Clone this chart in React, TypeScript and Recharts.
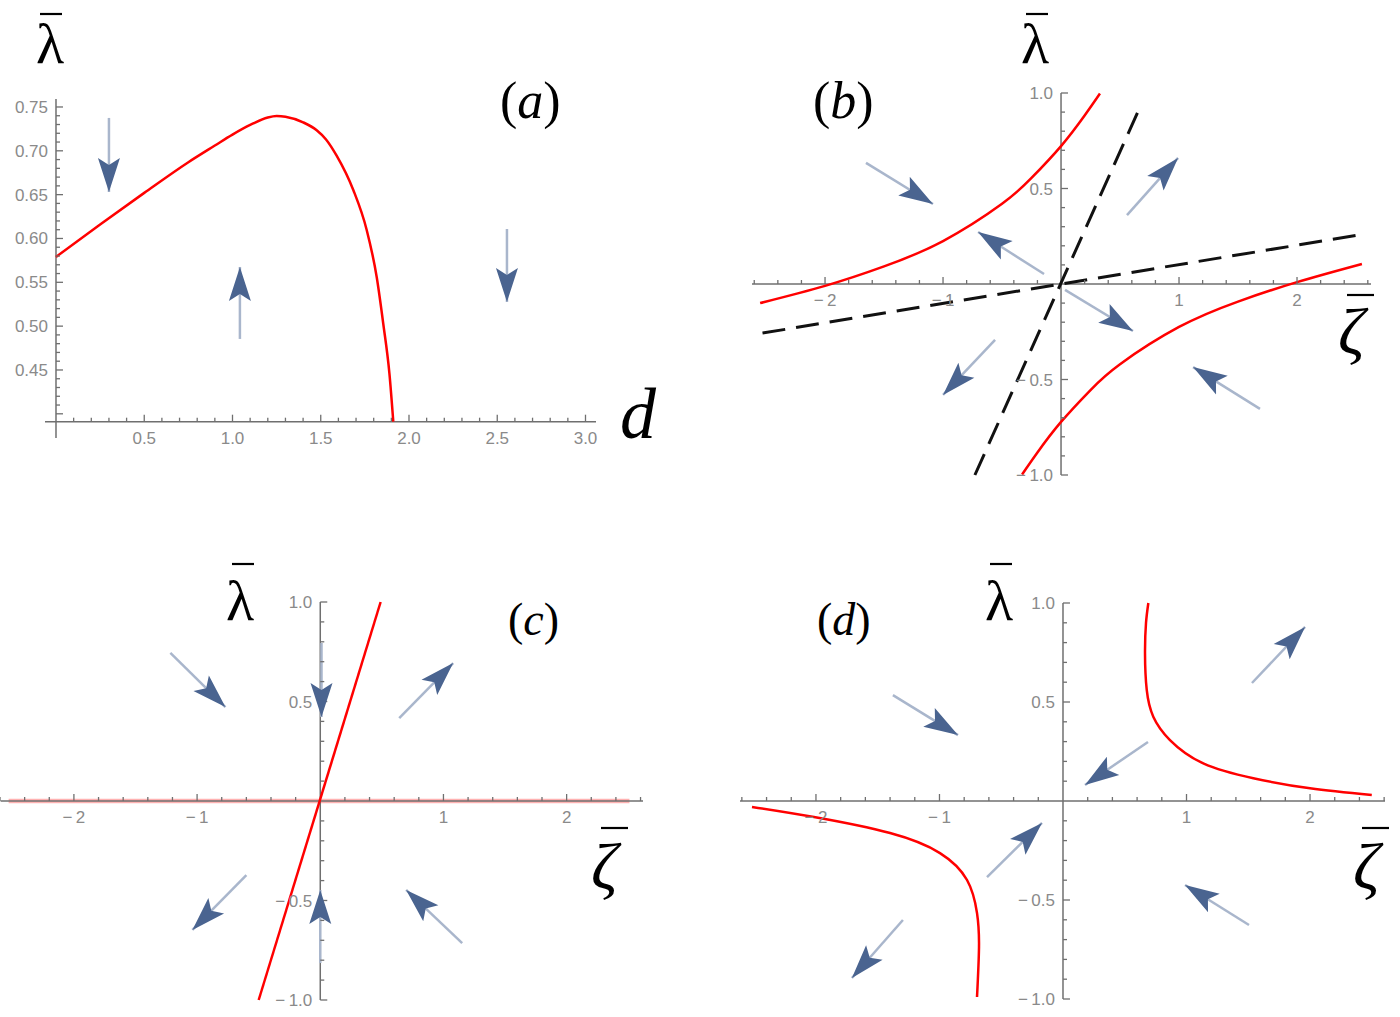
import React from "react";
import { ComposedChart, Line, Scatter, XAxis, YAxis } from "recharts";

type Pt = { x: number; y: number };
type Arrow = { x1: number; y1: number; x2: number; y2: number };
type Tick = { v: number; label: string };

// ---------- Panel (a) data ----------
const curveA: Pt[] = [
  { x: 0, y: 0.579 }, { x: 0.25, y: 0.616 }, { x: 0.5, y: 0.652 }, { x: 0.75, y: 0.687 },
  { x: 0.9, y: 0.706 }, { x: 1.0, y: 0.7185 }, { x: 1.1, y: 0.7295 }, { x: 1.2, y: 0.738 },
  { x: 1.25, y: 0.7397 }, { x: 1.3, y: 0.7389 }, { x: 1.4, y: 0.7325 }, { x: 1.477, y: 0.7235 },
  { x: 1.53, y: 0.713 }, { x: 1.59, y: 0.6945 }, { x: 1.685, y: 0.655 }, { x: 1.76, y: 0.61 },
  { x: 1.817, y: 0.556 }, { x: 1.854, y: 0.503 }, { x: 1.889, y: 0.446 }, { x: 1.911, y: 0.391 },
];
const arrowsA: Arrow[] = [
  { x1: 0.3, y1: 0.7375, x2: 0.3, y2: 0.653 },
  { x1: 1.042, y1: 0.4854, x2: 1.042, y2: 0.5675 },
  { x1: 2.555, y1: 0.6108, x2: 2.555, y2: 0.5276 },
];
const xMajorA: Tick[] = [
  { v: 0.5, label: "0.5" }, { v: 1.0, label: "1.0" }, { v: 1.5, label: "1.5" },
  { v: 2.0, label: "2.0" }, { v: 2.5, label: "2.5" }, { v: 3.0, label: "3.0" },
];
const xMinorA: number[] = [
  0.1, 0.2, 0.3, 0.4, 0.6, 0.7, 0.8, 0.9, 1.1, 1.2, 1.3, 1.4, 1.6, 1.7, 1.8, 1.9,
  2.1, 2.2, 2.3, 2.4, 2.6, 2.7, 2.8, 2.9,
];
const yMajorA: Tick[] = [
  { v: 0.4, label: "" }, { v: 0.45, label: "0.45" }, { v: 0.5, label: "0.50" }, { v: 0.55, label: "0.55" },
  { v: 0.6, label: "0.60" }, { v: 0.65, label: "0.65" }, { v: 0.7, label: "0.70" }, { v: 0.75, label: "0.75" },
];
const yMinorA: number[] = [
  0.41, 0.42, 0.43, 0.44, 0.46, 0.47, 0.48, 0.49, 0.51, 0.52, 0.53, 0.54, 0.56, 0.57, 0.58, 0.59,
  0.61, 0.62, 0.63, 0.64, 0.66, 0.67, 0.68, 0.69, 0.71, 0.72, 0.73, 0.74,
];

// ---------- shared ticks for (b), (c), (d) ----------
const xMajorZ: Tick[] = [
  { v: -2, label: "\u2212\u20092" }, { v: -1, label: "\u2212\u20091" }, { v: 1, label: "1" }, { v: 2, label: "2" },
];
const xMinorZ: number[] = [
  -2.6, -2.4, -2.2, -1.8, -1.6, -1.4, -1.2, -0.8, -0.6, -0.4, -0.2,
  0.2, 0.4, 0.6, 0.8, 1.2, 1.4, 1.6, 1.8, 2.2, 2.4, 2.6,
];
const yMajorZ: Tick[] = [
  { v: -1, label: "\u2212\u20091.0" }, { v: -0.5, label: "\u2212\u20090.5" }, { v: 0.5, label: "0.5" }, { v: 1, label: "1.0" },
];
const yMinorZ: number[] = [
  -0.9, -0.8, -0.7, -0.6, -0.4, -0.3, -0.2, -0.1, 0.1, 0.2, 0.3, 0.4, 0.6, 0.7, 0.8, 0.9,
];

// ---------- Panel (b) data ----------
const upperB: Pt[] = [
  { x: -2.55, y: -0.1 }, { x: -2.0, y: -0.01 }, { x: -1.5, y: 0.092 }, { x: -1.0, y: 0.225 },
  { x: -0.5, y: 0.42 }, { x: -0.25, y: 0.555 }, { x: 0, y: 0.722 }, { x: 0.2, y: 0.882 }, { x: 0.33, y: 0.997 },
];
const lowerB: Pt[] = [
  { x: -0.33, y: -0.997 }, { x: -0.2, y: -0.882 }, { x: 0, y: -0.722 }, { x: 0.25, y: -0.555 },
  { x: 0.5, y: -0.42 }, { x: 1.0, y: -0.225 }, { x: 1.5, y: -0.092 }, { x: 2.0, y: 0.01 }, { x: 2.55, y: 0.105 },
];
const steepB: Pt[] = [{ x: -0.73, y: -1.0 }, { x: 0.65, y: 0.9 }];
const shallowB: Pt[] = [{ x: -2.53, y: -0.257 }, { x: 2.53, y: 0.257 }];
const arrowsB: Arrow[] = [
  { x1: -1.653, y1: 0.634, x2: -1.085, y2: 0.419 },
  { x1: -0.144, y1: 0.052, x2: -0.703, y2: 0.272 },
  { x1: 0.559, y1: 0.361, x2: 0.992, y2: 0.66 },
  { x1: 0.034, y1: -0.031, x2: 0.61, y2: -0.246 },
  { x1: 1.686, y1: -0.654, x2: 1.119, y2: -0.435 },
  { x1: -0.559, y1: -0.293, x2: -1.0, y2: -0.581 },
];

// ---------- Panel (c) data ----------
const flatC: Pt[] = [{ x: -2.53, y: 0 }, { x: 2.51, y: 0 }];
const steepC: Pt[] = [{ x: -0.5, y: -1.0 }, { x: 0.49, y: 1.0 }];
const arrowsC: Arrow[] = [
  { x1: -1.217, y1: 0.744, x2: -0.77, y2: 0.472 },
  { x1: 0.01, y1: 0.794, x2: 0.01, y2: 0.422 },
  { x1: 0.641, y1: 0.417, x2: 1.079, y2: 0.693 },
  { x1: 0.0, y1: -0.814, x2: 0.0, y2: -0.447 },
  { x1: 1.152, y1: -0.714, x2: 0.697, y2: -0.447 },
  { x1: -0.6, y1: -0.372, x2: -1.038, y2: -0.648 },
];

// ---------- Panel (d) data ----------
const upperD: Pt[] = [
  { x: 0.691, y: 1.0 }, { x: 0.672, y: 0.899 }, { x: 0.664, y: 0.746 }, { x: 0.678, y: 0.561 },
  { x: 0.731, y: 0.426 }, { x: 0.866, y: 0.308 }, { x: 1.136, y: 0.19 }, { x: 1.541, y: 0.115 },
  { x: 2.0, y: 0.064 }, { x: 2.5, y: 0.03 },
];
const lowerD: Pt[] = [
  { x: -2.518, y: -0.03 }, { x: -2.016, y: -0.081 }, { x: -1.4, y: -0.162 }, { x: -0.996, y: -0.263 },
  { x: -0.777, y: -0.399 }, { x: -0.696, y: -0.566 }, { x: -0.68, y: -0.737 }, { x: -0.696, y: -0.99 },
];
const arrowsD: Arrow[] = [
  { x1: -1.377, y1: 0.535, x2: -0.85, y2: 0.333 },
  { x1: 1.53, y1: 0.596, x2: 1.96, y2: 0.879 },
  { x1: 0.688, y1: 0.298, x2: 0.178, y2: 0.081 },
  { x1: -0.615, y1: -0.384, x2: -0.17, y2: -0.111 },
  { x1: -1.296, y1: -0.601, x2: -1.709, y2: -0.894 },
  { x1: 1.506, y1: -0.626, x2: 0.988, y2: -0.424 },
];

// ---------- styles ----------
const AXIS = "#6f6f6f";
const LABEL = "#8a8a8a";
const RED = "#ff0000";
const SHAFT = "#a9b6cc";
const HEAD = "#4a6490";
const SANS = "'Liberation Sans', Arial, sans-serif";
const SERIF = "'Liberation Serif', 'Times New Roman', serif";

const TickShape = (props: any) => {
  const { cx, cy, payload } = props;
  if (cx == null || cy == null || !payload) return <g />;
  const len = payload.major ? 7 : 4;
  if (payload.axis === "x") {
    return (
      <g>
        <line x1={cx} y1={cy} x2={cx} y2={cy - len} stroke={AXIS} strokeWidth={1.3} />
        {payload.label ? (
          <text x={cx} y={cy + 22} textAnchor="middle" fontSize={17} fill={LABEL} fontFamily={SANS}>
            {payload.label}
          </text>
        ) : null}
      </g>
    );
  }
  return (
    <g>
      <line x1={cx} y1={cy} x2={cx + len} y2={cy} stroke={AXIS} strokeWidth={1.3} />
      {payload.label ? (
        <text x={cx - 8} y={cy + 6} textAnchor="end" fontSize={17} fill={LABEL} fontFamily={SANS}>
          {payload.label}
        </text>
      ) : null}
    </g>
  );
};

const ArrowHead = (props: any) => {
  const { cx, cy, index, points } = props;
  if (index !== 1 || !points || points.length < 2) return <g key={`e${index}`} />;
  const p0 = points[0];
  const ang = (Math.atan2(cy - p0.y, cx - p0.x) * 180) / Math.PI;
  return (
    <path
      key={`h${index}`}
      d="M0,0 L-34,-11 L-27,0 L-34,11 Z"
      transform={`translate(${cx},${cy}) rotate(${ang})`}
      fill={HEAD}
    />
  );
};

type CurveCfg = { data: Pt[]; type: any; color: string; width: number; dash?: string; opacity?: number };

type PanelCfg = {
  left: number; top: number; width: number; height: number;
  margin: { top: number; right: number; bottom: number; left: number };
  xDomain: [number, number]; yDomain: [number, number];
  xAxisAt: number; yAxisAt: number;
  xMajor: Tick[]; xMinor: number[]; yMajor: Tick[]; yMinor: number[];
  under: CurveCfg[]; curves: CurveCfg[]; arrows: Arrow[];
};

function Panel({ cfg, id }: { cfg: PanelCfg; id: string }) {
  const ticks = [
    ...cfg.xMajor.map((t) => ({ x: t.v, y: cfg.xAxisAt, axis: "x", major: true, label: t.label })),
    ...cfg.xMinor.map((v) => ({ x: v, y: cfg.xAxisAt, axis: "x", major: false, label: "" })),
    ...cfg.yMajor.map((t) => ({ x: cfg.yAxisAt, y: t.v, axis: "y", major: true, label: t.label })),
    ...cfg.yMinor.map((v) => ({ x: cfg.yAxisAt, y: v, axis: "y", major: false, label: "" })),
  ];
  const xLine: Pt[] = [{ x: cfg.xDomain[0], y: cfg.xAxisAt }, { x: cfg.xDomain[1], y: cfg.xAxisAt }];
  const yLine: Pt[] = [{ x: cfg.yAxisAt, y: cfg.yDomain[0] }, { x: cfg.yAxisAt, y: cfg.yDomain[1] }];
  const renderCurve = (c: CurveCfg, i: number, pre: string) => (
    <Line
      key={`${id}-${pre}-${i}`}
      data={c.data}
      dataKey="y"
      type={c.type}
      stroke={c.color}
      strokeWidth={c.width}
      strokeDasharray={c.dash}
      strokeOpacity={c.opacity ?? 1}
      dot={false}
      activeDot={false}
      isAnimationActive={false}
    />
  );
  return (
    <div style={{ position: "absolute", left: cfg.left, top: cfg.top }}>
      <ComposedChart width={cfg.width} height={cfg.height} margin={cfg.margin}>
        <XAxis type="number" dataKey="x" domain={cfg.xDomain} hide />
        <YAxis type="number" dataKey="y" domain={cfg.yDomain} hide />
        {cfg.under.map((c, i) => renderCurve(c, i, "u"))}
        <Line data={xLine} dataKey="y" type="linear" stroke={AXIS} strokeWidth={1.5} dot={false} activeDot={false} isAnimationActive={false} />
        <Line data={yLine} dataKey="y" type="linear" stroke={AXIS} strokeWidth={1.5} dot={false} activeDot={false} isAnimationActive={false} />
        <Scatter data={ticks} dataKey="y" shape={TickShape} isAnimationActive={false} />
        {cfg.curves.map((c, i) => renderCurve(c, i, "c"))}
        {cfg.arrows.map((a, i) => (
          <Line
            key={`${id}-arr-${i}`}
            data={[{ x: a.x1, y: a.y1 }, { x: a.x2, y: a.y2 }]}
            dataKey="y"
            type="linear"
            stroke={SHAFT}
            strokeWidth={2.5}
            dot={ArrowHead}
            activeDot={false}
            isAnimationActive={false}
          />
        ))}
      </ComposedChart>
    </div>
  );
}

const panelA: PanelCfg = {
  left: 0, top: 0, width: 700, height: 480,
  margin: { top: 99, left: 45, right: 104, bottom: 42 },
  xDomain: [-0.0623, 3.0595], yDomain: [0.3724, 0.7591],
  xAxisAt: 0.391, yAxisAt: 0,
  xMajor: xMajorA, xMinor: xMinorA, yMajor: yMajorA, yMinor: yMinorA,
  under: [],
  curves: [{ data: curveA, type: "monotone", color: RED, width: 2.5 }],
  arrows: arrowsA,
};

const panelB: PanelCfg = {
  left: 700, top: 0, width: 700, height: 500,
  margin: { top: 93, left: 52, right: 29, bottom: 25 },
  xDomain: [-2.619, 2.627], yDomain: [-1, 1],
  xAxisAt: 0, yAxisAt: 0,
  xMajor: xMajorZ, xMinor: xMinorZ, yMajor: yMajorZ, yMinor: yMinorZ,
  under: [],
  curves: [
    { data: upperB, type: "natural", color: RED, width: 2.5 },
    { data: lowerB, type: "natural", color: RED, width: 2.5 },
    { data: steepB, type: "linear", color: "#111", width: 3, dash: "23 11" },
    { data: shallowB, type: "linear", color: "#111", width: 3, dash: "23 11" },
  ],
  arrows: arrowsB,
};

const panelC: PanelCfg = {
  left: 0, top: 500, width: 700, height: 517,
  margin: { top: 102, left: 0, right: 57, bottom: 17 },
  xDomain: [-2.595, 2.62], yDomain: [-1, 1],
  xAxisAt: 0, yAxisAt: 0,
  xMajor: xMajorZ, xMinor: xMinorZ, yMajor: yMajorZ, yMinor: yMinorZ,
  under: [{ data: flatC, type: "linear", color: RED, width: 4.5, opacity: 0.3 }],
  curves: [{ data: steepC, type: "linear", color: RED, width: 2.5 }],
  arrows: arrowsC,
};

const panelD: PanelCfg = {
  left: 700, top: 500, width: 700, height: 517,
  margin: { top: 103, left: 40, right: 15, bottom: 18 },
  xDomain: [-2.615, 2.607], yDomain: [-1, 1],
  xAxisAt: 0, yAxisAt: 0,
  xMajor: xMajorZ, xMinor: xMinorZ, yMajor: yMajorZ, yMinor: yMinorZ,
  under: [],
  curves: [
    { data: upperD, type: "natural", color: RED, width: 2.5 },
    { data: lowerD, type: "natural", color: RED, width: 2.5 },
  ],
  arrows: arrowsD,
};

function Lambda({ x, y, bx, bar }: { x: number; y: number; bx: number; bar: number }) {
  return (
    <g>
      <text x={x} y={y} fontSize={58} fontFamily={SERIF} fill="#000">λ</text>
      <line x1={bx} y1={y - bar} x2={bx + 22} y2={y - bar} stroke="#000" strokeWidth={2.2} />
    </g>
  );
}

function Zeta({ x, y, bx, by }: { x: number; y: number; bx: number; by: number }) {
  return (
    <g>
      <text x={x} y={y} fontSize={66} fontFamily={SERIF} fontStyle="italic" fill="#000">ζ</text>
      <line x1={bx} y1={by} x2={bx + 27} y2={by} stroke="#000" strokeWidth={2.2} />
    </g>
  );
}

function PanelTag({ x, y, size, letter }: { x: number; y: number; size: number; letter: string }) {
  return (
    <text x={x} y={y} fontSize={size} fontFamily={SERIF} fill="#000">
      (<tspan fontStyle="italic">{letter}</tspan>)
    </text>
  );
}

export default function App() {
  return (
    <div style={{ position: "absolute", left: 0, top: 0, width: 1400, height: 1017, background: "#fff", overflow: "hidden" }}>
      <Panel cfg={panelA} id="a" />
      <Panel cfg={panelB} id="b" />
      <Panel cfg={panelC} id="c" />
      <Panel cfg={panelD} id="d" />
      <svg width={1400} height={1017} style={{ position: "absolute", left: 0, top: 0, pointerEvents: "none" }}>
        <Lambda x={36} y={63} bx={40} bar={49} />
        <text x={620} y={438} fontSize={72} fontFamily={SERIF} fontStyle="italic" fill="#000">d</text>
        <PanelTag x={500} y={118} size={52} letter="a" />

        <Lambda x={1021} y={63} bx={1026} bar={49} />
        <Zeta x={1338} y={354} bx={1347} by={295} />
        <PanelTag x={813} y={118} size={52} letter="b" />

        <Lambda x={226} y={620} bx={232} bar={56} />
        <Zeta x={591} y={889} bx={601} by={828} />
        <PanelTag x={508} y={635} size={46} letter="c" />

        <Lambda x={985} y={620} bx={990} bar={56} />
        <Zeta x={1353} y={889} bx={1362} by={828} />
        <PanelTag x={817} y={635} size={46} letter="d" />
      </svg>
    </div>
  );
}
